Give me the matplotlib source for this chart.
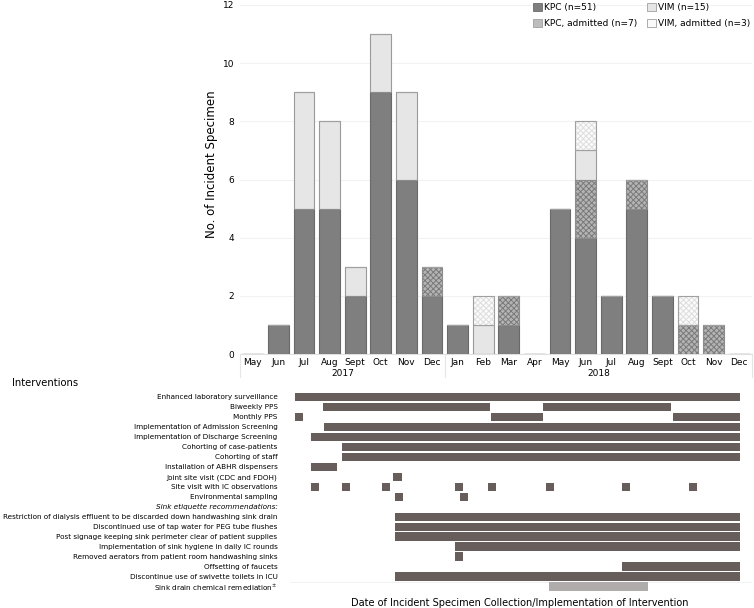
"""Incident KPC/VIM specimens by month with intervention timeline."""

import matplotlib
matplotlib.use("Agg")
import matplotlib.pyplot as plt
import numpy as np
from matplotlib.patches import Patch

plt.rcParams["font.family"] = ["DejaVu Sans"]
plt.rcParams["hatch.linewidth"] = 0.7

# ---- incident specimens, May 2017 .. Dec 2018 ----
months = ["May", "Jun", "Jul", "Aug", "Sept", "Oct", "Nov", "Dec",
          "Jan", "Feb", "Mar", "Apr", "May", "Jun", "Jul", "Aug",
          "Sept", "Oct", "Nov", "Dec"]
years = ["2017", "2018"]
year_len = [8, 12]
kpc = [0, 1, 5, 5, 2, 9, 6, 2, 1, 0, 1, 0, 5, 4, 2, 5, 2, 0, 0, 0]
kpc_adm = [0, 0, 0, 0, 0, 0, 0, 1, 0, 0, 1, 0, 0, 2, 0, 1, 0, 1, 1, 0]
vim = [0, 0, 4, 3, 1, 2, 3, 0, 0, 1, 0, 0, 0, 1, 0, 0, 0, 0, 0, 0]
vim_adm = [0, 0, 0, 0, 0, 0, 0, 0, 0, 1, 0, 0, 0, 1, 0, 0, 0, 1, 0, 0]

# ---- interventions: (start, end) in months from 1 May 2017 ----
interventions = [
    "Enhanced laboratory surveillance",
    "Biweekly PPS",
    "Monthly PPS",
    "Implementation of Admission Screening",
    "Implementation of Discharge Screening",
    "Cohorting of case-patients",
    "Cohorting of staff",
    "Installation of ABHR dispensers",
    "Joint site visit (CDC and FDOH)",
    "Site visit with IC observations",
    "Environmental sampling",
    "Sink etiquette recommendations:",
    "Restriction of dialysis effluent to be discarded down handwashing sink drain",
    "Discontinued use of tap water for PEG tube flushes",
    "Post signage keeping sink perimeter clear of patient supplies",
    "Implementation of sink hygiene in daily IC rounds",
    "Removed aerators from patient room handwashing sinks",
    "Offsetting of faucets",
    "Discontinue use of swivette toilets in ICU",
    "Sink drain chemical remediation$^{\\pm}$",
]
periods = [
    [(0.0, 20.0)],
    [(1.25, 8.75), (11.15, 16.9)],
    [(0.0, 0.36), (8.8, 11.15), (17.0, 20.0)],
    [(1.3, 20.0)],
    [(0.72, 20.0)],
    [(2.1, 20.0)],
    [(2.1, 20.0)],
    [(0.72, 1.9)],
    [(4.4, 4.8)],
    [(0.72, 1.08), (2.12, 2.48), (3.9, 4.26), (7.2, 7.56), (8.68, 9.04),
     (11.3, 11.66), (14.68, 15.04), (17.7, 18.06)],
    [(4.5, 4.86), (7.4, 7.76)],
    [],
    [(4.5, 20.0)],
    [(4.5, 20.0)],
    [(4.5, 20.0)],
    [(7.2, 20.0)],
    [(7.2, 7.56)],
    [(14.7, 20.0)],
    [(4.5, 20.0)],
    [(11.4, 15.85)],
]

W, H = 754, 608
fig = plt.figure(figsize=(W / 100, H / 100), dpi=100)

# ---------------- top bar chart ----------------
ax = fig.add_axes([240 / W, 1 - 354 / H, 512 / W, 349 / H])
x = np.arange(len(months))
bw = 0.82
b0 = np.zeros(len(months))
ax.bar(x, kpc, bw, bottom=b0, color="#7f7f7f", edgecolor="#6a6a6a", lw=0.8, zorder=3)
b1 = b0 + kpc
ax.bar(x, kpc_adm, bw, bottom=b1, color="#b4b4b4", edgecolor="#7a7a7a",
       hatch="xxxxxx", lw=0, zorder=3)
ax.bar(x, kpc_adm, bw, bottom=b1, fill=False, edgecolor="#8c8c8c", lw=0.8, zorder=4)
b2 = b1 + kpc_adm
ax.bar(x, vim, bw, bottom=b2, color="#e6e6e6", edgecolor="#9a9a9a", lw=0.8, zorder=3)
b3 = b2 + vim
ax.bar(x, vim_adm, bw, bottom=b3, color="#fbfbfb", edgecolor="#dedede",
       hatch="xxxxxx", lw=0, zorder=3)
ax.bar(x, vim_adm, bw, bottom=b3, fill=False, edgecolor="#a0a0a0", lw=0.8, zorder=4)

ax.set_xlim(-0.5, len(months) - 0.5)
ax.set_ylim(0, 12)
ax.set_yticks(range(0, 13, 2))
ax.set_ylabel("No. of Incident Specimen", fontsize=8.5, labelpad=2)
ax.yaxis.set_label_coords(-0.043, 0.545)
ax.grid(axis="y", color="#f2f2f2", lw=0.8, zorder=0)
for s in ["top", "right", "left"]:
    ax.spines[s].set_visible(False)
ax.spines["bottom"].set_color("#e0e0e0")
ax.tick_params(axis="y", length=0, labelsize=6.5, pad=4)
ax.set_xticks(x)
ax.set_xticklabels(months)
ax.tick_params(axis="x", length=0, labelsize=6.5, pad=3)

# year group labels and separators
start = -0.5
for yr, n in zip(years, year_len):
    ax.text(start + n / 2, -0.055, yr, transform=ax.get_xaxis_transform(),
            ha="center", va="center", fontsize=6.5)
    ax.plot([start, start], [0, -0.065], transform=ax.get_xaxis_transform(),
            color="#e6e6e6", lw=0.8, clip_on=False)
    start += n
ax.plot([start, start], [0, -0.065], transform=ax.get_xaxis_transform(),
        color="#e6e6e6", lw=0.8, clip_on=False)

handles = [
    Patch(facecolor="#7f7f7f", edgecolor="#6a6a6a", lw=0.6, label="KPC (n=51)"),
    Patch(facecolor="#bdbdbd", edgecolor="#a0a0a0", lw=0.6, label="KPC, admitted (n=7)"),
    Patch(facecolor="#e6e6e6", edgecolor="#a0a0a0", lw=0.6, label="VIM (n=15)"),
    Patch(facecolor="#fafafa", edgecolor="#a0a0a0", lw=0.6, label="VIM, admitted (n=3)"),
]
ax.legend(handles=handles, ncol=2, loc="upper right", bbox_to_anchor=(1.013, 1.03),
          frameon=False, fontsize=6.5, handlelength=1.0, handleheight=1.0,
          handletextpad=0.3, columnspacing=1.0, labelspacing=0.75)

# ---------------- intervention timeline ----------------
left_px = 290
px_per_month = 22.25
bx = fig.add_axes([left_px / W, 1 - 593 / H, (752 - left_px) / W, 202 / H])
for i, spans in enumerate(periods):
    col = "#b0acab" if i == len(periods) - 1 else "#675d5a"
    for s0, s1 in spans:
        bx.barh(i, s1 - s0, left=s0, height=0.83, color=col, lw=0)
bx.set_xlim((left_px - 295) / px_per_month, (752 - 295) / px_per_month)
bx.set_ylim(len(interventions) - 0.35, -0.6)
bx.set_yticks(range(len(interventions)))
bx.set_yticklabels(interventions)
for lab in bx.get_yticklabels():
    if lab.get_text().startswith("Sink etiquette"):
        lab.set_fontstyle("italic")
bx.tick_params(axis="y", length=0, labelsize=5.2, pad=9)
bx.set_xticks([])
for s in bx.spines.values():
    s.set_visible(False)
bx.axhline(len(interventions) - 1.5, color="#f0f0f0", lw=0.6, zorder=0)

fig.text(12 / W, 1 - 383 / H, "Interventions", fontsize=7.2, va="center")
fig.text(520 / W, 1 - 603 / H,
         "Date of Incident Specimen Collection/Implementation of Intervention",
         fontsize=7.0, ha="center", va="center")

fig.savefig("out.png", dpi=100)
